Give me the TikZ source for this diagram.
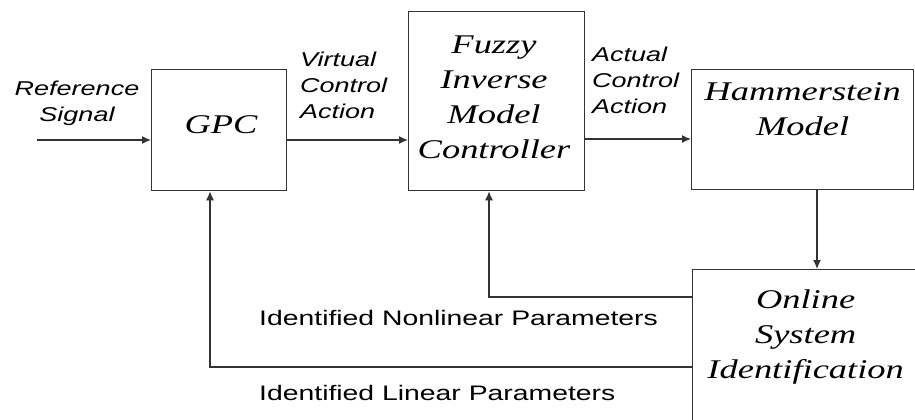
\documentclass[tikz,border=0pt]{standalone}
\usepackage{fontspec}
\setmainfont[FakeStretch=1.35]{Liberation Serif}
\setsansfont[FakeStretch=1.35]{Liberation Sans}
\usetikzlibrary{arrows.meta,positioning}

\tikzset{
  block/.style={draw=black!80, line width=1.3pt, inner sep=0pt, anchor=north west},
  blocktext/.style={font=\fontsize{27}{35}\selectfont\itshape, align=center, inner sep=0pt},
  signal/.style={font=\fontsize{20}{26}\selectfont\sffamily\itshape, align=left, inner sep=0pt},
  param/.style={font=\fontsize{21}{25}\selectfont\sffamily, inner sep=0pt, anchor=west},
  flow/.style={draw=black!80, line width=1.3pt, -{Latex[length=9pt,width=8pt]}}
}

\begin{document}
\begin{tikzpicture}[x=1pt,y=-1pt]
\clip (0,0) rectangle (915,420);

\node[block, minimum width=135pt, minimum height=121pt] (gpc) at (151,69) {};
\node[block, minimum width=176pt, minimum height=179pt] (fimc) at (408,11) {};
\node[block, minimum width=222pt, minimum height=120pt] (ham) at (691,69) {};
\node[block, minimum width=226pt, minimum height=170pt] (osi) at (692,269) {};

\node[blocktext] (gpctext) at (221,125) {GPC};
\node[blocktext] (fimctext) at (494,97) {Fuzzy\\Inverse\\Model\\Controller};
\node[blocktext, below=13pt of ham.north] (hamtext) {Hammerstein\\Model};
\node[blocktext, below=21pt of osi.north] (ositext) {Online\\System\\Identification};

\node[signal, align=center] (reftext) at (77,103) {Reference\\Signal};
\node[signal, anchor=west] (vcatext) at (300,85) {Virtual\\Control\\Action};
\node[signal, anchor=west] (acatext) at (592,80) {Actual\\Control\\Action};
\node[param] (nonlin) at (259,318) {Identified Nonlinear Parameters};
\node[param] (lin) at (259,393) {Identified Linear Parameters};

\coordinate (in) at (37,140);
\coordinate (tap) at (817,0);
\coordinate (nlback) at (489,297);
\coordinate (lback) at (210,367);

\draw[flow] (in) -- (in -| gpc.west);
\draw[flow] (gpc.east |- in) -- (fimc.west |- in);
\draw[flow] (fimc.east |- 0,139) -- (ham.west |- 0,139);
\draw[flow] (ham.south -| tap) -- (osi.north -| tap);
\draw[flow] (osi.west |- nlback) -- (nlback) -- (fimc.south -| nlback);
\draw[flow] (osi.west |- lback) -- (lback) -- (gpc.south -| lback);
\end{tikzpicture}
\end{document}
